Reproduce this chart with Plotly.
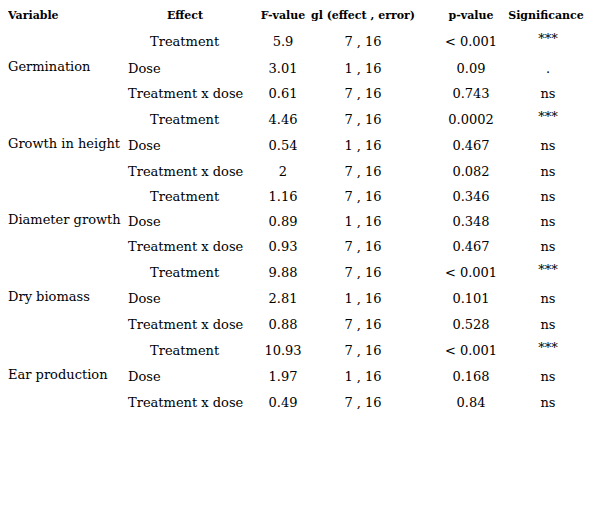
import plotly.graph_objects as go

headers = ["Variable", "Effect", "F-value", "gl (effect , error)", "p-value", "Significance"]
variables = ["Germination", "Growth in height", "Diameter growth", "Dry biomass", "Ear production"]
effects = ["Treatment", "Dose", "Treatment x dose"]
f_values = ["5.9", "3.01", "0.61", "4.46", "0.54", "2", "1.16", "0.89", "0.93",
            "9.88", "2.81", "0.88", "10.93", "1.97", "0.49"]
gl = ["7 , 16", "1 , 16", "7 , 16"] * 5
p_values = ["< 0.001", "0.09", "0.743", "0.0002", "0.467", "0.082", "0.346", "0.348", "0.467",
            "< 0.001", "0.101", "0.528", "< 0.001", "0.168", "0.84"]
signif = ["***", ".", "ns", "***", "ns", "ns", "ns", "ns", "ns",
          "***", "ns", "ns", "***", "ns", "ns"]

O = 8  # page body margin offset
row_y = [43, 70, 95, 121, 147, 173, 198, 223, 248, 274, 300, 326, 352, 378, 404]
row_y = [y - O for y in row_y]
font = dict(family="DejaVu Serif", size=13, color="black")

fig = go.Figure()
def add(xs, ys, texts, pos, f=font):
    fig.add_trace(go.Scatter(x=[x - O for x in xs], y=ys, text=texts, mode="text", textposition=pos,
                             textfont=f, hoverinfo="skip", showlegend=False))

hfont = dict(family="DejaVu Serif", size=11, color="black", weight="bold")
add([8], [16 - O], [headers[0]], "middle right", hfont)
add([185, 283, 363, 471, 546], [16 - O]*5, headers[1:], "middle center", hfont)

add([8]*5, [row_y[i*3+1]-2 for i in range(5)], variables, "middle right")
eff = effects * 5
ex = [150 if e == "Treatment" else 128 for e in eff]
add(ex, row_y, eff, "middle right")
add([283]*15, row_y, f_values, "middle center")
add([363]*15, row_y, gl, "middle center")
add([471]*15, row_y, p_values, "middle center")
sy = [y - 3 if s == "***" else y for y, s in zip(row_y, signif)]
add([548]*15, sy, signif, "middle center")

fig.update_xaxes(range=[0, 597], visible=False)
fig.update_yaxes(range=[522, 0], visible=False)
fig.update_layout(width=597, height=522, margin=dict(l=0, r=0, t=0, b=0),
                  plot_bgcolor="white", paper_bgcolor="white")
fig.write_html("out.html")
